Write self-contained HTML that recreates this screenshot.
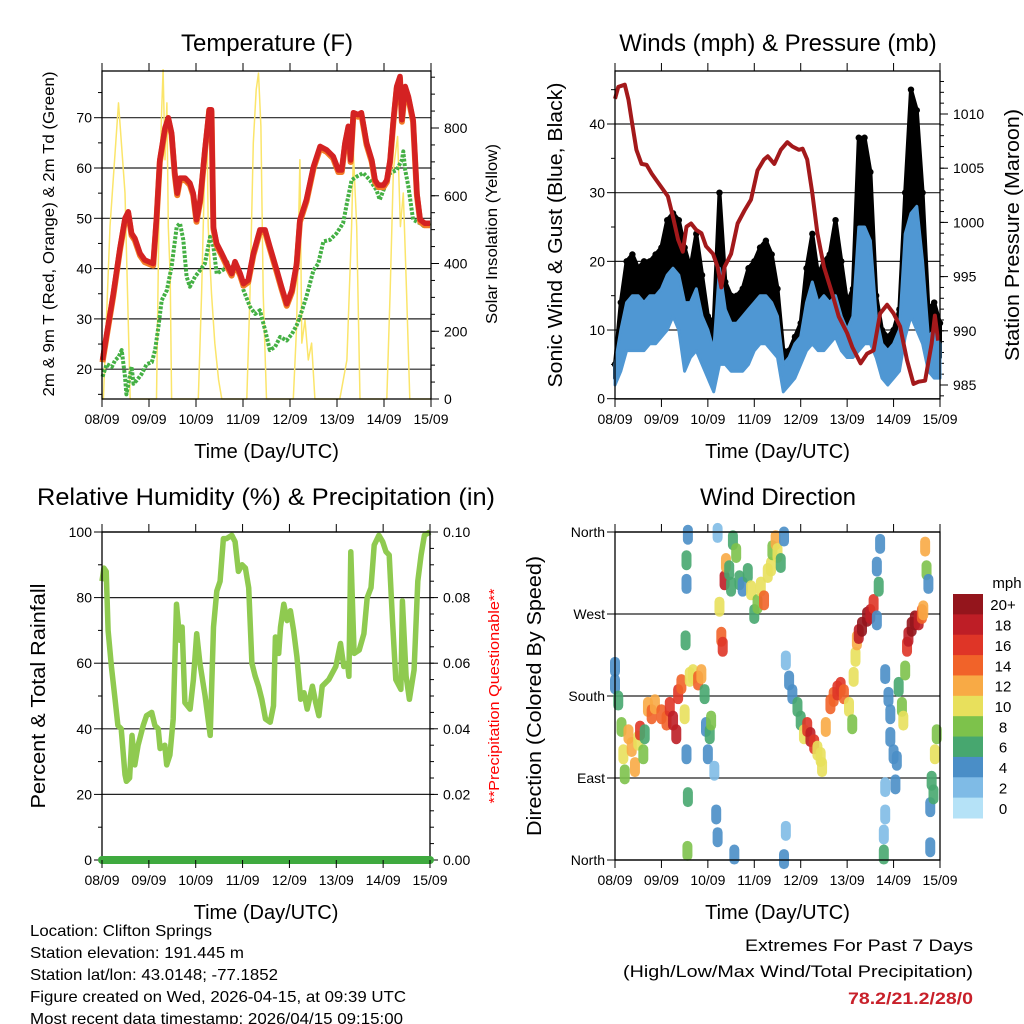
<!DOCTYPE html>
<html><head><meta charset="utf-8"><style>
html,body{margin:0;padding:0;background:#fff}
svg{display:block}
text{font-family:"Liberation Sans",sans-serif}
</style></head><body>
<svg id="fig" width="1024" height="1024" viewBox="0 0 1024 1024"></svg>
<script>
// ---------- DATA ----------
const dayLabels=["08/09","09/09","10/09","11/09","12/09","13/09","14/09","15/09"];
// Temperature (F)
const tempTime=[0.01,0.1,0.24,0.38,0.49,0.56,0.63,0.7,0.81,0.91,1.09,1.16,1.23,1.34,1.41,1.48,1.55,1.6,1.66,1.77,1.87,1.94,2.01,2.09,2.19,2.28,2.33,2.37,2.44,2.55,2.65,2.76,2.83,2.94,3.01,3.11,3.22,3.36,3.47,3.57,3.72,3.82,3.93,4.04,4.14,4.21,4.35,4.5,4.64,4.78,4.92,5.03,5.1,5.17,5.24,5.29,5.35,5.45,5.52,5.63,5.74,5.81,5.88,5.99,6.06,6.13,6.2,6.27,6.34,6.38,6.45,6.52,6.62,6.7,6.77,6.87,6.98];
const tempVal=[21.8,27,35,44,50,51.3,47,46,43,41.7,41,50,61.6,68,70,67,59,55,58,58,57,55,49.7,53.7,63.6,71.6,71.6,48.3,45,43,41,39,41.4,39,37,37.7,43,47.7,47.7,44.4,39.7,36.4,33,35.7,41,49.7,53.7,60.3,64.3,63.6,62.3,59.6,59.6,65,68.3,61.6,71,70.6,71,65,61.6,57.6,56.6,56.6,57.6,61.6,69.6,76.2,78.2,69.6,76.2,74.2,69.6,55,49.7,49,49];
const dewTime=[0.01,0.1,0.21,0.28,0.35,0.42,0.49,0.52,0.63,0.67,0.74,0.84,0.95,1.06,1.13,1.2,1.27,1.38,1.48,1.59,1.66,1.73,1.8,1.87,1.98,2.09,2.19,2.3,2.37,2.44,2.62,2.65,2.72,2.83,2.94,3.01,3.15,3.26,3.36,3.47,3.57,3.68,3.79,3.93,4.04,4.14,4.21,4.35,4.5,4.6,4.71,4.85,4.99,5.13,5.21,5.31,5.42,5.56,5.7,5.84,5.91,5.99,6.13,6.27,6.38,6.41,6.45,6.52,6.62,6.77,6.87,6.98];
const dewVal=[18.5,21,20.5,21.8,22.4,23.8,18.5,15,20.5,17.1,17.8,19,21,21.4,23.8,28.4,33.7,35.7,40.4,48.3,49,45.7,38.4,36.4,38.4,39.7,41,46.3,44.4,39,40,41.7,39.7,41,39,35.7,32.4,31,31.7,27.8,23.8,24.4,26.4,25.7,27,28.7,30.4,34.4,39.7,41,45.4,45.7,47,49,53,57.6,58.3,59,57.6,55.6,53.7,55.6,59,59.6,61.6,63.3,59.6,56.3,49.7,49,48.3,49];
const solarTime=[0,0.03,0.17,0.35,0.49,0.6,1.16,1.22,1.27,1.3,1.34,1.38,1.41,1.45,1.48,2.05,2.12,2.19,2.23,2.26,2.33,2.4,2.48,2.55,3.08,3.15,3.22,3.28,3.33,3.38,3.43,3.5,4.07,4.14,4.21,4.25,4.32,4.39,4.46,4.53,5.06,5.21,5.31,5.35,5.42,5.49,6.06,6.13,6.2,6.29,6.35,6.41,6.48,6.55,7];
const solarVal=[0,0,509,874,608,0,0,608,854,972,706,874,509,362,0,0,312,706,854,509,312,165,56,0,0,312,756,913,962,805,312,0,0,214,706,165,233,115,165,0,0,115,509,726,509,0,0,312,677,775,509,608,312,0,0];
// Winds (mph) & Pressure (mb)
const windTime=[0,0.125,0.25,0.375,0.5,0.625,0.75,0.875,1,1.125,1.25,1.375,1.5,1.625,1.75,1.875,2,2.125,2.25,2.375,2.5,2.625,2.75,2.875,3,3.125,3.25,3.375,3.5,3.625,3.75,3.875,4,4.125,4.25,4.375,4.5,4.625,4.75,4.875,5,5.125,5.25,5.375,5.5,5.625,5.75,5.875,6,6.125,6.25,6.375,6.5,6.625,6.75,6.875,7];
const windLow=[2,4,7,7,7,7,8,8,9,10,12,10,4,6,7,5,3,1,5,5,4,4,4,5,7,8,8,7,6,1,2,3,5,7,8,7,7,8,9,7,6,6,7,8,8,6,3,2,3,4,9,12,10,8,4,3,3];
const windHigh=[5,10,14,15,15,14,15,15,16,18,19,18,14,14,16,12,10,7,19,13,11,11,12,13,14,15,15,14,12,5,6,8,9,14,17,14,15,14,15,12,10,12,25,25,23,12,8,7,8,10,24,27,28,20,9,10,8];
const gustHigh=[5,14,20,21,19,20,20,21,22,26,27,26,22,19,24,18,12,11,30,17,15,15,16,19,20,22,23,21,16,7,7,9,11,19,24,18,20,21,26,20,14,16,38,38,33,15,10,9,10,13,30,45,42,30,13,14,11];
const presTime=[0,0.07,0.21,0.29,0.36,0.46,0.57,0.68,0.79,0.89,1.04,1.14,1.25,1.36,1.46,1.54,1.64,1.75,1.86,1.96,2.11,2.21,2.29,2.36,2.5,2.64,2.79,2.93,3.07,3.21,3.29,3.43,3.57,3.71,3.82,3.96,4.04,4.14,4.25,4.36,4.5,4.68,4.82,5.0,5.11,5.29,5.43,5.57,5.71,5.86,6.0,6.14,6.29,6.43,6.54,6.68,6.82,6.89,6.96];
const presVal=[1011.4,1012.5,1012.7,1011.3,1009.4,1006.7,1005.4,1005.3,1004.5,1003.9,1003,1002.4,1000.5,998.4,997.3,999.6,999.9,999.3,999,997.8,997.1,995.9,994,995.9,997.1,999.9,1001.1,1002.1,1004.8,1005.8,1006.1,1005.4,1006.7,1007.4,1007,1006.7,1006.8,1005.8,1002.7,999,995.9,993.4,991.3,989.8,988.5,987,987.9,988.2,991.6,992.4,991.6,990.4,987.3,985.1,985.3,985.4,988.8,991.4,989.1];
// Relative humidity (%)
const rhTime=[0,0.04,0.09,0.13,0.2,0.27,0.34,0.41,0.49,0.52,0.59,0.64,0.7,0.77,0.88,0.95,1.06,1.13,1.2,1.24,1.34,1.38,1.45,1.52,1.59,1.66,1.71,1.77,1.88,1.95,2.02,2.09,2.2,2.31,2.38,2.45,2.52,2.59,2.66,2.77,2.84,2.91,2.99,3.06,3.13,3.2,3.27,3.34,3.41,3.49,3.59,3.66,3.7,3.77,3.81,3.88,3.95,4.02,4.09,4.16,4.24,4.31,4.38,4.49,4.56,4.63,4.7,4.84,4.99,5.09,5.16,5.24,5.27,5.31,5.38,5.49,5.59,5.66,5.74,5.81,5.91,5.99,6.06,6.13,6.2,6.27,6.38,6.41,6.49,6.56,6.66,6.74,6.81,6.88,7];
const rhVal=[85,89,88,70,59,50,41,40,26,24,25,38,29,35,41,44,45,41,40,34,35,29,32,43,78,67,71,48,46,55,69,60,50,38,71,82,85,98,98,99,97,88,90,89,83,60,56,53,49,43,42,47,68,63,71,78,73,76,70,62,49,51,46,53,48,44,53,55,59,66,59,60,56,94,63,64,69,80,83,96,99,97,94,93,73,55,52,79,56,49,58,85,93,99,100];
const precipTime=[0,7];
const precipVal=[0,0];
// Wind direction (deg) coloured by speed (mph)
const dirTime=[0,0,0.07,0.14,0.18,0.21,0.29,0.36,0.43,0.5,0.54,0.61,0.64,0.71,0.79,0.86,1.0,1.11,1.18,1.25,1.32,1.36,1.43,1.5,1.54,1.52,1.54,1.54,1.57,1.57,1.56,1.61,1.68,1.79,1.86,1.93,1.96,2.04,2.07,2.0,2.14,2.18,2.21,2.21,2.25,2.29,2.32,2.36,2.39,2.46,2.5,2.54,2.61,2.68,2.75,2.86,2.93,3.0,3.07,3.14,3.21,3.29,3.36,3.39,3.46,3.5,3.57,3.64,2.57,3.64,3.68,3.68,3.75,3.82,3.93,4.0,4.07,4.14,4.21,4.29,4.36,4.43,4.46,4.54,4.64,4.71,4.79,4.86,4.93,5.04,5.11,5.14,5.18,5.21,5.25,5.32,5.43,5.5,5.57,5.64,5.71,5.64,5.68,5.82,5.89,5.93,5.93,6.0,6.07,5.82,5.82,5.79,5.79,6.04,6.11,6.18,6.21,6.25,6.29,6.32,6.39,6.46,6.54,6.61,6.64,6.68,6.71,6.75,6.79,6.82,6.89,6.93,6.86,6.79];
const dirDeg=[212,193,175,146,116,94,138,124,102,131,142,116,138,168,160,171,160,153,168,153,138,182,193,160,116,241,303,329,357,69,10,201,204,197,204,182,146,138,153,116,98,50,25,359,278,245,234,307,326,318,300,351,337,307,300,315,296,270,281,300,285,315,322,340,351,337,326,355,6,1,32,219,197,182,168,153,138,146,135,127,120,113,102,146,171,179,186,190,182,168,149,201,223,241,248,256,267,270,281,263,347,322,300,204,179,160,135,116,109,80,50,28,6,83,190,168,153,208,234,245,256,263,263,270,274,344,318,303,58,87,116,138,72,14];
const dirSpd=[4,4,6,8,10,8,12,12,12,10,16,8,6,12,14,12,14,14,16,18,18,16,14,10,4,6,4,6,4,6,8,10,10,14,12,6,4,6,8,4,2,4,4,2,10,14,16,18,12,6,6,6,8,6,4,6,10,6,8,10,14,10,10,8,12,10,6,4,4,4,2,2,4,4,6,6,10,16,18,16,10,10,10,12,14,14,16,16,14,10,8,10,10,12,18,20,20,18,16,4,4,4,6,4,4,4,4,4,4,2,2,2,6,4,6,8,10,8,16,18,20,20,18,14,12,12,8,4,4,6,10,8,6,4];
const speedLabels=["0","2","4","6","8","10","12","14","16","18","20+"];
const speedColors=["#b5e2f7","#7fbbe6","#4a8ec7","#47a76f","#7dc24b","#e8e05c","#f8aa45","#f16329","#df3527","#be1e26","#94151c"];

// ---------- HELPERS ----------
const NS="http://www.w3.org/2000/svg";
const svg=document.getElementById("fig");
function mk(tag,attrs,parent){const e=document.createElementNS(NS,tag);for(const k in attrs)e.setAttribute(k,attrs[k]);(parent||svg).appendChild(e);return e;}
function txt(s,x,y,size,anchor,parent,extra){const t=mk("text",Object.assign({x:x,y:y,"font-size":size,"text-anchor":anchor||"middle",fill:"#000"},extra||{}),parent);t.textContent=s;return t;}
function linScale(d0,d1,r0,r1){return v=>r0+(v-d0)*(r1-r0)/(d1-d0);}
function poly(xs,ys,sx,sy){return xs.map((t,i)=>sx(t).toFixed(1)+","+sy(ys[i]).toFixed(1)).join(" ");}

function frame(p,name){
  const g=mk("g",{});
  
  
  p.g=g;
  return g;
}
function xAxis(p){
  const sx=p.sx;
  dayLabels.forEach((lab,i)=>{
    const x=sx(i);
    const t1=mk("line",{x1:x,y1:p.y1,x2:x,y2:p.y1+8,stroke:"#000","stroke-width":1},p.g);
    
    
    const t2=mk("line",{x1:x,y1:p.y0,x2:x,y2:p.y0-8,stroke:"#000","stroke-width":1},p.g);
    
    
    const l=txt(lab,x,p.y1+25,14,"middle",p.g);
    
    
  });
  const tt=txt("Time (Day/UTC)",(p.x0+p.x1)/2,p.y1+59,20,"middle",p.g);
  
  
}
function leftAxis(p,sy,majors,labels,minors,grid){
  majors.forEach((v,i)=>{
    const y=sy(v);
    if(grid){const gl=mk("line",{x1:p.x0,y1:y,x2:p.x1,y2:y,stroke:"#222","stroke-width":1.2},p.g);
      
      }
    const tk=mk("line",{x1:p.x0-8,y1:y,x2:p.x0,y2:y,stroke:"#000"},p.g);
    
    
    const l=txt(labels[i],p.x0-10,y+5,14,"end",p.g);
    
    
  });
  minors.forEach(v=>{const y=sy(v);const m=mk("line",{x1:p.x0-4,y1:y,x2:p.x0,y2:y,stroke:"#000"},p.g);
    
    });
}
function rightAxis(p,sy,majors,labels,minors){
  majors.forEach((v,i)=>{
    const y=sy(v);
    const tk=mk("line",{x1:p.x1,y1:y,x2:p.x1+8,y2:y,stroke:"#000"},p.g);
    
    
    const l=txt(labels[i],p.x1+13,y+5,14,"start",p.g);
    
    
  });
  minors.forEach(v=>{const y=sy(v);const m=mk("line",{x1:p.x1,y1:y,x2:p.x1+4,y2:y,stroke:"#000"},p.g);
    
    });
}
function border(p){
  const r=mk("rect",{x:p.x0,y:p.y0,width:p.x1-p.x0,height:p.y1-p.y0,fill:"none",stroke:"#000","stroke-width":1.3},p.g);
  
  
}
function vtitle(s,x,y,size,name,color,g,len){
  const t=txt(s,0,0,size,"middle",g,{transform:"translate("+x+","+y+") rotate(-90)",fill:color||"#000"});
  if(len){t.setAttribute("textLength",len);t.setAttribute("lengthAdjust","spacingAndGlyphs");}
  
  
  return t;
}
function range(a,b,s){const r=[];for(let v=a;v<=b+1e-9;v+=s)r.push(+v.toFixed(4));return r;}

// ---------- PANEL 1: TEMPERATURE ----------
const p1={x0:102,x1:431,y0:71,y1:399};
frame(p1,"temperature-panel");
p1.sx=linScale(0,7,p1.x0,p1.x1);
const p1y=linScale(50,70,218.3,117.7);
const p1s=linScale(0,800,399,128);
leftAxis(p1,p1y,[20,30,40,50,60,70],["20","30","40","50","60","70"],[15,25,35,45,55,65,75],true);
rightAxis(p1,p1s,[0,200,400,600,800],["0","200","400","600","800"],range(50,950,50));
const solar=mk("polyline",{points:poly(solarTime,solarVal,p1.sx,p1s),fill:"none",stroke:"#fbe56a","stroke-width":1.5,"stroke-linejoin":"round"},p1.g);


const dew=mk("polyline",{points:poly(dewTime,dewVal,p1.sx,p1y),fill:"none",stroke:"#44b044","stroke-width":4,"stroke-dasharray":"3,1.5","stroke-linejoin":"round"},p1.g);


const t9=mk("polyline",{points:poly(tempTime,tempVal.map(v=>v-0.4),p1.sx,p1y),fill:"none",stroke:"#f27a26","stroke-width":6,"stroke-linejoin":"round"},p1.g);


const t2=mk("polyline",{points:poly(tempTime,tempVal,p1.sx,p1y),fill:"none",stroke:"#d42222","stroke-width":5.5,"stroke-linejoin":"round"},p1.g);


border(p1);xAxis(p1);
const ti1=txt("Temperature (F)",267,51,24,"middle",p1.g);


vtitle("2m & 9m T (Red, Orange) & 2m Td (Green)",54,234,16,"temperature-y-axis-title",null,p1.g,325);
vtitle("Solar Insolation (Yellow)",497,234,16,"solar-y-axis-title",null,p1.g,180);

// ---------- PANEL 2: WINDS & PRESSURE ----------
const p2={x0:615,x1:940,y0:71,y1:399};
frame(p2,"winds-panel");
p2.sx=linScale(0,7,p2.x0,p2.x1);
const p2w=linScale(0,40,398.7,124);
const p2p=linScale(985,1010,385,114);
leftAxis(p2,p2w,[0,10,20,30,40],["0","10","20","30","40"],[5,15,25,35,45],true);
rightAxis(p2,p2p,[985,990,995,1000,1005,1010],["985","990","995","1000","1005","1010"],range(984,1013,1));
const gustBand=mk("polygon",{points:poly(windTime,windHigh.map((v,i)=>Math.max(v-2,windLow[i])),p2.sx,p2w)+" "+poly(windTime.slice().reverse(),gustHigh.slice().reverse(),p2.sx,p2w),fill:"#000",stroke:"#000","stroke-width":4,"stroke-linejoin":"round"},p2.g);


windTime.forEach((t,i)=>{
  const c=mk("circle",{cx:p2.sx(t),cy:p2w(gustHigh[i]),r:3.2,fill:"#000"},p2.g);
  
  
});
const windBand=mk("polygon",{points:poly(windTime,windHigh,p2.sx,p2w)+" "+poly(windTime.slice().reverse(),windLow.slice().reverse(),p2.sx,p2w),fill:"#4f97d3",stroke:"#4f97d3","stroke-width":3,"stroke-linejoin":"round"},p2.g);


const pres=mk("polyline",{points:poly(presTime,presVal,p2.sx,p2p),fill:"none",stroke:"#a3191b","stroke-width":4,"stroke-linejoin":"round"},p2.g);


border(p2);xAxis(p2);
const ti2=txt("Winds (mph) & Pressure (mb)",778,51,24,"middle",p2.g);


vtitle("Sonic Wind & Gust (Blue, Black)",562,235,20,"wind-y-axis-title",null,p2.g,305);
vtitle("Station Pressure (Maroon)",1019,235,20,"pressure-y-axis-title",null,p2.g,252);

// ---------- PANEL 3: RH & PRECIP ----------
const p3={x0:102,x1:430,y0:532,y1:860};
frame(p3,"humidity-panel");
p3.sx=linScale(0,7,p3.x0,p3.x1);
const p3y=linScale(0,100,860,532);
const p3r=linScale(0,0.1,860,532);
leftAxis(p3,p3y,[0,20,40,60,80,100],["0","20","40","60","80","100"],[10,30,50,70,90],true);
rightAxis(p3,p3r,[0,0.02,0.04,0.06,0.08,0.1],["0.00","0.02","0.04","0.06","0.08","0.10"],range(0.005,0.095,0.005));
const rh=mk("polyline",{points:poly(rhTime,rhVal,p3.sx,p3y),fill:"none",stroke:"#8fca50","stroke-width":5.5,"stroke-linejoin":"round"},p3.g);


border(p3);
const pr=mk("polyline",{points:poly(precipTime,precipVal,p3.sx,p3r),fill:"none",stroke:"#3faa3f","stroke-width":8,"stroke-linecap":"round"},p3.g);


xAxis(p3);
const ti3=txt("Relative Humidity (%) & Precipitation (in)",266,505,24,"middle",p3.g,{textLength:458,lengthAdjust:"spacingAndGlyphs"});


vtitle("Percent & Total Rainfall",45,696,20,"humidity-y-axis-title",null,p3.g,225);
vtitle("**Precipitation Questionable**",499,696,15,"precip-warning-label","#f00",p3.g,215);

// ---------- PANEL 4: WIND DIRECTION ----------
const p4={x0:615,x1:940,y0:532,y1:860};
frame(p4,"wind-direction-panel");
p4.sx=linScale(0,7,p4.x0,p4.x1);
const p4y=linScale(0,360,860,532);
leftAxis(p4,p4y,[0,90,180,270,360],["North","East","South","West","North"],[],true);
dirTime.forEach((t,i)=>{
  const idx=Math.min(10,Math.floor(dirSpd[i]/2));
  const cx=p4.sx(t),cy=p4y(dirDeg[i]);
  const c=mk("line",{x1:cx,y1:cy-5,x2:cx,y2:cy+5,stroke:speedColors[idx],"stroke-width":10,"stroke-linecap":"round","stroke-opacity":0.9},p4.g);
  
  
});
border(p4);xAxis(p4);
const ti4=txt("Wind Direction",778,505,24,"middle",p4.g);


vtitle("Direction (Colored By Speed)",541,696,20,"direction-y-axis-title",null,p4.g,280);
const cb=mk("g",{});


const cbTop=594,cbH=224/11;
speedLabels.forEach((lab,i)=>{
  const k=10-i;
  const y=cbTop+i*cbH;
  const r=mk("rect",{x:953,y:y,width:30,height:cbH+0.5,fill:speedColors[k]},cb);
  
  
  const l=txt(speedLabels[k],1003,y+cbH/2+6,15,"middle",cb);
  
  
});
const mph=txt("mph",1007,588,15,"middle",cb);



// ---------- FOOTER ----------
const info=["Location: Clifton Springs","Station elevation: 191.445 m","Station lat/lon: 43.0148; -77.1852","Figure created on Wed, 2026-04-15, at 09:39 UTC","Most recent data timestamp: 2026/04/15 09:15:00"];
const infoLen=[182,214,248,376,373];
info.forEach((s,i)=>{
  const t=txt(s,30,936+i*22,16,"start",null,{textLength:infoLen[i],lengthAdjust:"spacingAndGlyphs"});
  
  
});
const ex1=txt("Extremes For Past 7 Days",973,951,17,"end",null,{textLength:228,lengthAdjust:"spacingAndGlyphs"});


const ex2=txt("(High/Low/Max Wind/Total Precipitation)",973,977,17,"end",null,{textLength:350,lengthAdjust:"spacingAndGlyphs"});


const ex3=txt("78.2/21.2/28/0",973,1004,17,"end",null,{fill:"#c8202a","font-weight":"bold",textLength:125,lengthAdjust:"spacingAndGlyphs"});


</script>
</body></html>
